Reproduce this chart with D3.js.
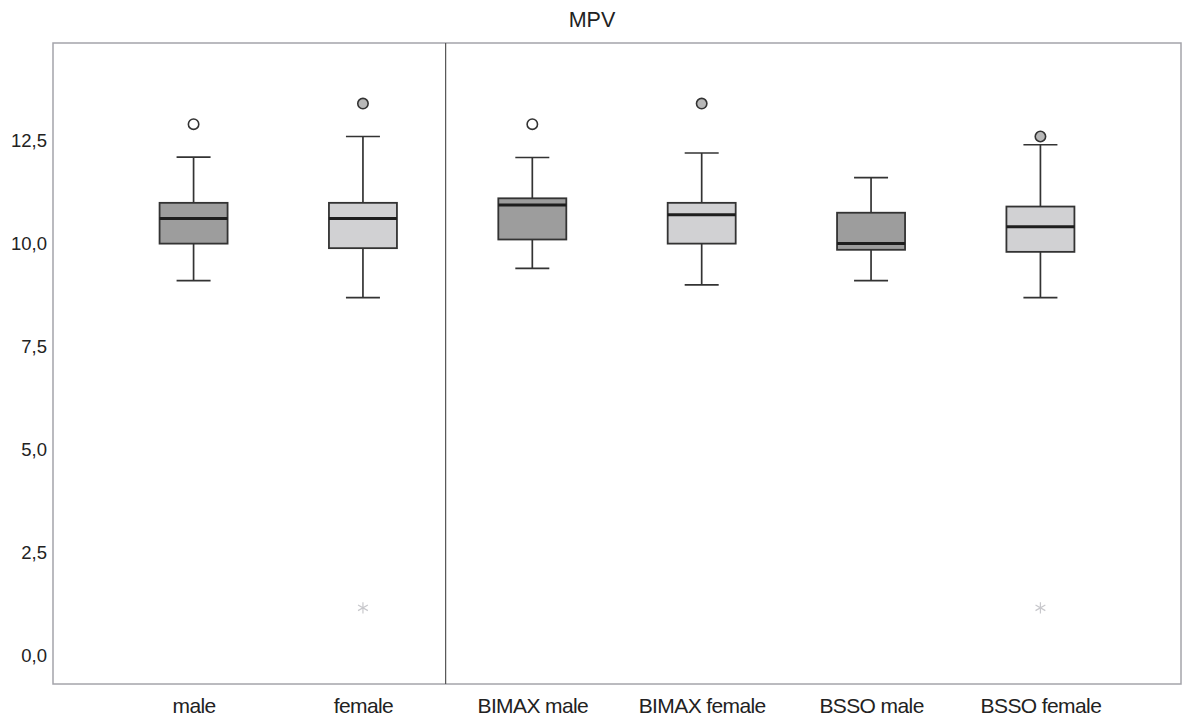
<!DOCTYPE html>
<html>
<head>
<meta charset="utf-8">
<script src="https://cdn.jsdelivr.net/npm/d3@7"></script>
<style>
  html, body { margin: 0; padding: 0; background: #fff; }
  svg { display: block; font-family: "Liberation Sans", Arial, sans-serif; }
</style>
</head>
<body>
<svg id="chart" width="1182" height="722"></svg>
<script>
// ---- data ----
const categories = ["male", "female", "BIMAX male", "BIMAX female", "BSSO male", "BSSO female"];
const groupType  = ["m", "f", "m", "f", "m", "f"];
const whiskerLow = [9.09, 8.68, 9.39, 8.99, 9.09, 8.68];
const q1Values   = [9.99, 9.88, 10.09, 9.99, 9.84, 9.79];
const medians    = [10.6, 10.6, 10.93, 10.69, 9.99, 10.4];
const q3Values   = [10.98, 10.98, 11.09, 10.98, 10.74, 10.89];
const whiskerHigh= [12.09, 12.59, 12.08, 12.19, 11.59, 12.39];
// outliers: [categoryIndex, value, kind]  kind: "o" open circle, "g" grey circle, "*" extreme
const outliers = [
  [0, 12.89, "o"],
  [1, 13.39, "g"],
  [1, 1.15, "*"],
  [2, 12.89, "o"],
  [3, 13.39, "g"],
  [5, 12.59, "g"],
  [5, 1.15, "*"]
];
const yTicks = [0, 2.5, 5, 7.5, 10, 12.5];
const chartTitle = "MPV";

// ---- layout ----
const svg = d3.select("#chart");
const pL = 53, pR = 1181, pT = 43, pB = 684;

const x = d3.scalePoint().domain(categories).range([pL, pR]).padding(0.83);
const y = d3.scaleLinear().domain([-0.7, 14.86]).range([pB, pT]);

const boxW = 68, capW = 34;
const fillFor = t => t === "m" ? "#9d9d9d" : "#d1d1d3";
const strokeCol = "#333";

// frame
svg.append("rect")
  .attr("x", pL).attr("y", pT)
  .attr("width", pR - pL).attr("height", pB - pT)
  .attr("fill", "none").attr("stroke", "#a4a4aa").attr("stroke-width", 1.5);

// divider between panels
const divX = (x(categories[1]) + x(categories[2])) / 2 - 2;
svg.append("line")
  .attr("x1", divX).attr("x2", divX)
  .attr("y1", pT).attr("y2", pB)
  .attr("stroke", "#555").attr("stroke-width", 1.2);

// y axis (labels only)
const yAxis = d3.axisLeft(y).tickValues(yTicks).tickSize(0).tickPadding(0)
  .tickFormat(d => d3.format(".1f")(d).replace(".", ","));
const gy = svg.append("g").attr("transform", `translate(${47},0)`).call(yAxis);
gy.select(".domain").remove();
gy.selectAll("text").attr("font-size", 18.5).attr("fill", "#222")
  .attr("font-family", "Liberation Sans, Arial, sans-serif");

// x axis labels
const xAxis = d3.axisBottom(x).tickSize(0).tickPadding(0);
const gx = svg.append("g").attr("transform", `translate(0,${pB})`).call(xAxis);
gx.select(".domain").remove();
gx.selectAll("text").attr("font-size", 21).attr("fill", "#222")
  .attr("letter-spacing", "-0.6px")
  .attr("dy", null).attr("y", 29)
  .attr("font-family", "Liberation Sans, Arial, sans-serif");

// boxes
const boxes = categories.map((c, i) => ({
  c, t: groupType[i], lo: whiskerLow[i], q1: q1Values[i], med: medians[i], q3: q3Values[i], hi: whiskerHigh[i]
}));
const g = svg.append("g");
boxes.forEach(b => {
  const cx = x(b.c);
  g.append("line").attr("x1", cx).attr("x2", cx).attr("y1", y(b.hi)).attr("y2", y(b.q3))
    .attr("stroke", strokeCol).attr("stroke-width", 1.7);
  g.append("line").attr("x1", cx).attr("x2", cx).attr("y1", y(b.q1)).attr("y2", y(b.lo))
    .attr("stroke", strokeCol).attr("stroke-width", 1.7);
  g.append("line").attr("x1", cx - capW / 2).attr("x2", cx + capW / 2).attr("y1", y(b.hi)).attr("y2", y(b.hi))
    .attr("stroke", strokeCol).attr("stroke-width", 1.7);
  g.append("line").attr("x1", cx - capW / 2).attr("x2", cx + capW / 2).attr("y1", y(b.lo)).attr("y2", y(b.lo))
    .attr("stroke", strokeCol).attr("stroke-width", 1.7);
  g.append("rect").attr("x", cx - boxW / 2).attr("y", y(b.q3))
    .attr("width", boxW).attr("height", y(b.q1) - y(b.q3))
    .attr("fill", fillFor(b.t)).attr("stroke", strokeCol).attr("stroke-width", 1.8);
  g.append("line").attr("x1", cx - boxW / 2).attr("x2", cx + boxW / 2).attr("y1", y(b.med)).attr("y2", y(b.med))
    .attr("stroke", "#1e1e1e").attr("stroke-width", 3);
});

// outliers
outliers.forEach(([i, v, k]) => {
  const cx = x(categories[i]), cy = y(v);
  if (k === "*") {
    const sym = d3.symbol().type(d3.symbolAsterisk).size(90);
    g.append("path").attr("d", sym()).attr("transform", `translate(${cx},${cy})`)
      .attr("fill", "none").attr("stroke", "#c8c8cc").attr("stroke-width", 1.2);
  } else {
    g.append("circle").attr("cx", cx).attr("cy", cy).attr("r", 5.2)
      .attr("fill", k === "o" ? "#fff" : "#b8b8b8")
      .attr("stroke", strokeCol).attr("stroke-width", 1.6);
  }
});

// title
svg.append("text").attr("x", 592).attr("y", 27).attr("text-anchor", "middle")
  .attr("font-size", 21.5).attr("fill", "#222").text(chartTitle);
</script>
</body>
</html>
